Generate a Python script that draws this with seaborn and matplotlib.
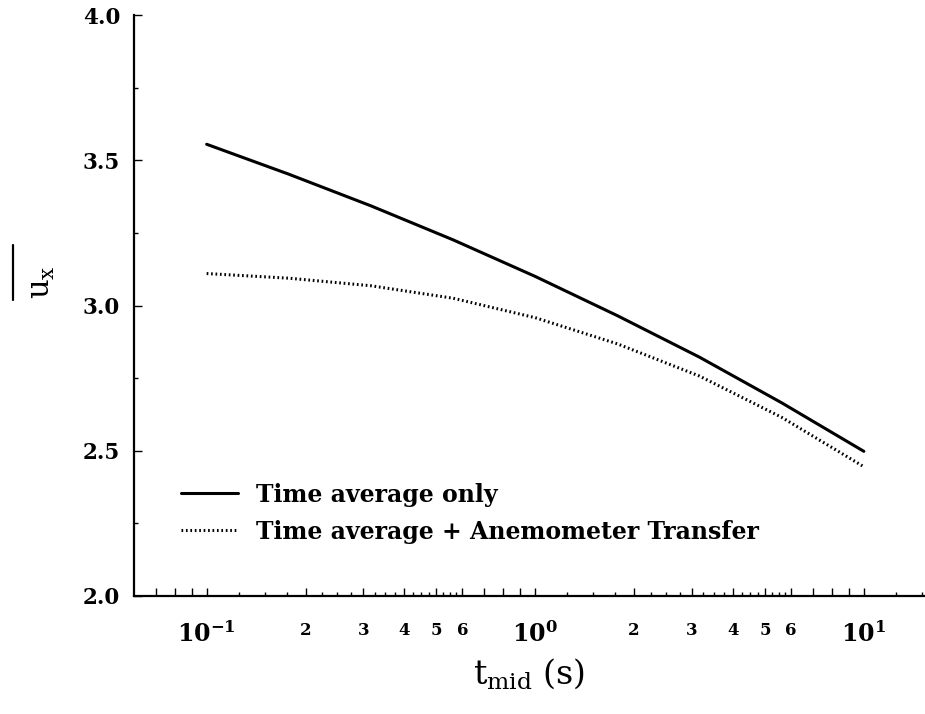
import numpy as np
import pandas as pd
import matplotlib
matplotlib.use("Agg")
import matplotlib.pyplot as plt
from matplotlib.lines import Line2D
import seaborn as sns
from matplotlib.ticker import FixedLocator, FixedFormatter

# ---- data ----
t_mid = [0.1, 0.1778, 0.3162, 0.5623, 1.0, 1.778, 3.162, 5.623, 10.0]
u_time_avg = [3.555, 3.452, 3.343, 3.226, 3.100, 2.965, 2.822, 2.665, 2.498]
u_time_avg_anem = [3.110, 3.094, 3.068, 3.025, 2.958, 2.868, 2.757, 2.615, 2.445]
series_names = ["Time average only", "Time average + Anemometer Transfer"]

major_x = [0.1, 1.0, 10.0]
major_x_labels = [r"$\mathbf{10^{-1}}$", r"$\mathbf{10^{0}}$", r"$\mathbf{10^{1}}$"]
mid_x = [0.07, 0.08, 0.09, 0.2, 0.3, 0.4, 0.5, 0.6, 0.7, 0.8, 0.9,
         2, 3, 4, 5, 6, 7, 8, 9]
mid_x_labels = ["", "", "", "2", "3", "4", "5", "6", "", "", "",
                "2", "3", "4", "5", "6", "", "", ""]
short_x = [0.125, 0.15, 0.175, 0.225, 0.25, 0.275, 0.325, 0.35, 0.375,
           0.425, 0.45, 0.475, 0.525, 0.55, 0.575,
           1.25, 1.5, 1.75, 2.25, 2.5, 2.75, 3.25, 3.5, 3.75,
           4.25, 4.5, 4.75, 5.25, 5.5, 5.75, 12.5, 15]
y_major = [2.0, 2.5, 3.0, 3.5, 4.0]
y_minor = [2.25, 2.75, 3.25, 3.75]

df = pd.DataFrame({
    "t": t_mid * 2,
    "u": u_time_avg + u_time_avg_anem,
    "series": [series_names[0]] * len(t_mid) + [series_names[1]] * len(t_mid),
})

sns.set_style("white")
plt.rcParams["font.family"] = ["DejaVu Serif"]
plt.rcParams["mathtext.fontset"] = "dejavuserif"
for key in ["text.color", "axes.labelcolor", "xtick.color", "ytick.color", "axes.edgecolor"]:
    plt.rcParams[key] = "black"

fig = plt.figure(figsize=(9.25, 7.14), dpi=100)
ax = fig.add_axes([134 / 925, 1 - 596 / 714, (925 - 134) / 925 - 0.0005, (596 - 15) / 714])

sns.lineplot(data=df, x="t", y="u", style="series", style_order=series_names,
             dashes={series_names[0]: "", series_names[1]: (0.55, 0.9)},
             color="black", linewidth=2.2, ax=ax, sort=False)

ax.set_xscale("log")
ax.set_xlim(0.0601, 15.3)
ax.set_ylim(2.0, 4.0)

# x ticks: decades + integer multiples (long ticks), quarter steps (short ticks)
ax.xaxis.set_major_locator(FixedLocator(major_x + mid_x))
ax.xaxis.set_major_formatter(FixedFormatter(major_x_labels + mid_x_labels))
ax.xaxis.set_minor_locator(FixedLocator(short_x))
ax.xaxis.set_minor_formatter(FixedFormatter([""] * len(short_x)))
for lab in ax.get_xticklabels():
    if lab.get_text().startswith("$"):
        lab.set_fontsize(17)
    else:
        lab.set_fontsize(12)
        lab.set_fontweight("bold")

ax.yaxis.set_major_locator(FixedLocator(y_major))
ax.yaxis.set_major_formatter(FixedFormatter([f"{v:.1f}" for v in y_major]))
ax.yaxis.set_minor_locator(FixedLocator(y_minor))
for lab in ax.get_yticklabels():
    lab.set_fontsize(15.5)
    lab.set_fontweight("bold")

ax.tick_params(axis="both", which="both", bottom=True, left=True, top=False, right=False)
ax.tick_params(axis="both", which="major", direction="in", length=6, width=1.0, color="black")
ax.tick_params(axis="both", which="minor", direction="in", length=2.8, width=1.0, color="black")
ax.tick_params(axis="x", which="major", pad=18.5)
ax.tick_params(axis="y", which="major", pad=10)

for s in ["top", "right"]:
    ax.spines[s].set_visible(False)
for s in ["left", "bottom"]:
    ax.spines[s].set_linewidth(1.6)
    ax.spines[s].set_color("black")

ax.set_xlabel(r"$\mathrm{t_{mid}}$ (s)", fontsize=24, labelpad=6)
ax.set_ylabel(r"$\mathrm{u_x}$", fontsize=22)
ax.yaxis.set_label_coords((57 - 134) / 791, (596 - 282) / 581)
# overline of the y-axis symbol
fig.add_artist(Line2D([12.5 / 925, 12.5 / 925], [1 - 300 / 714, 1 - 245 / 714],
                      transform=fig.transFigure, color="black", linewidth=1.6))

handles, labels = ax.get_legend_handles_labels()
leg = ax.legend(handles, labels, loc="lower left", bbox_to_anchor=(0.06, 0.09),
                frameon=False, handlelength=2.4, handletextpad=0.75,
                labelspacing=0.55, borderpad=0, borderaxespad=0,
                prop={"weight": "bold", "size": 17})

fig.savefig("out.png", dpi=100)
